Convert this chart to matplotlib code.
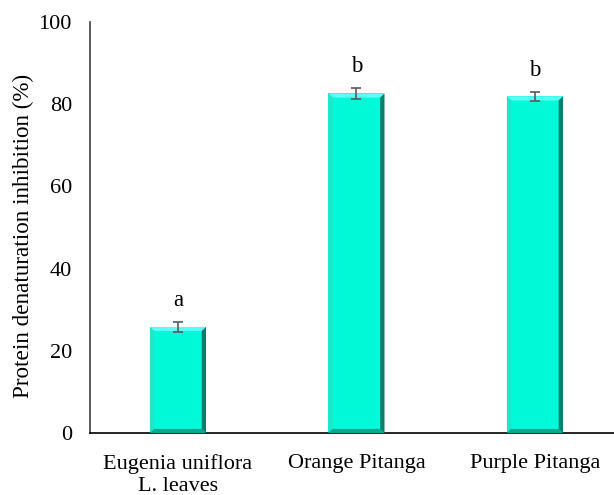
import matplotlib
matplotlib.use("Agg")
import matplotlib.pyplot as plt
from matplotlib.patches import Polygon

plt.rcParams['font.family'] = ['Liberation Serif', 'DejaVu Serif']

categories = ["Eugenia uniflora\nL. leaves", "Orange Pitanga", "Purple Pitanga"]
values = [25.8, 82.6, 81.9]
errors = [1.2, 1.4, 1.1]
letters = ["a", "b", "b"]
yticks = [0, 20, 40, 60, 80, 100]

fig = plt.figure(figsize=(6.14, 4.95), dpi=100)
ax = fig.add_axes([0.1466, 0.1253, 0.8534, 0.8303])

x = list(range(len(categories)))
width = 0.314
face = "#00FAD8"
bars = ax.bar(x, values, width=width, color=face, edgecolor="none", zorder=2)

# bevelled edges on each bar
bx, by = 0.024, 1.0
for rect in bars:
    x0, y0 = rect.get_x(), rect.get_y()
    w, h = rect.get_width(), rect.get_height()
    x1, y1 = x0 + w, y0 + h
    sides = [
        ([(x0, y1), (x1, y1), (x1 - bx, y1 - by), (x0 + bx, y1 - by)], "#5CFFF6"),
        ([(x0, y0), (x0, y1), (x0 + bx, y1 - by), (x0 + bx, y0 + by)], "#1FE6C8"),
        ([(x1, y0), (x1, y1), (x1 - bx, y1 - by), (x1 - bx, y0 + by)], "#0A7D6C"),
        ([(x0, y0), (x1, y0), (x1 - bx, y0 + by), (x0 + bx, y0 + by)], "#07A88F"),
    ]
    for pts, c in sides:
        ax.add_patch(Polygon(pts, closed=True, facecolor=c, edgecolor="none", zorder=3))

ax.errorbar(x, values, yerr=errors, fmt="none", ecolor="#5a5a5a",
            elinewidth=1.2, capsize=3.5, capthick=1.2, zorder=4)

for xi, v, e, t in zip(x, values, errors, letters):
    ax.annotate(t, (xi, v + e), xytext=(0, 8), textcoords="offset points",
                ha="center", va="bottom", fontsize=16.5)

ax.set_xlim(-0.493, 2.443)
ax.set_ylim(0, 100)
ax.set_yticks(yticks)
ax.set_xticks(x)
ax.set_xticklabels(categories, fontsize=16)
ax.tick_params(axis="y", labelsize=16, length=0, pad=13)
ax.tick_params(axis="x", length=0, pad=15)
ax.set_ylabel("Protein denaturation inhibition (%)", fontsize=16.7)
ax.yaxis.set_label_coords(-0.106, 0.479)

for s in ["top", "right"]:
    ax.spines[s].set_visible(False)
ax.spines["left"].set_color("#404040")
ax.spines["bottom"].set_color("#000000")
ax.spines["left"].set_linewidth(1.2)
ax.spines["bottom"].set_linewidth(1.2)

fig.savefig("out.png", dpi=100)
